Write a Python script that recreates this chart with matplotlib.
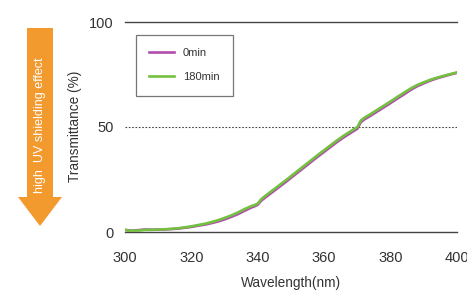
import matplotlib
matplotlib.use("Agg")
import matplotlib.pyplot as plt
from matplotlib.patches import Polygon

plt.rcParams['font.family'] = ["Liberation Sans", "DejaVu Sans"]

wavelength = [300, 302, 304, 306, 308, 310, 312, 314, 316, 318, 320, 322, 324, 326, 328,
              330, 332, 334, 336, 338, 339, 340, 341, 342, 344, 346, 348, 350, 352, 354,
              356, 358, 360, 362, 364, 366, 368, 369, 370, 370.5, 371, 372, 374, 376, 378,
              380, 382, 384, 386, 388, 390, 392, 394, 396, 398, 400]
t_180 = [1.0, 0.5, 0.7, 1.0, 1.0, 1.2, 1.3, 1.5, 1.8, 2.2, 2.7, 3.3, 3.9, 4.7, 5.6,
         6.7, 7.9, 9.3, 10.9, 12.3, 12.8, 13.6, 15.6, 16.9, 19.3, 21.7, 24.1, 26.6, 29.1, 31.6,
         34.1, 36.6, 39.0, 41.4, 43.8, 46.0, 48.0, 49.0, 50.0, 51.5, 53.0, 54.3, 56.2, 58.2, 60.2,
         62.2, 64.3, 66.3, 68.3, 70.0, 71.3, 72.5, 73.5, 74.4, 75.2, 76.0]
t_0 = [1.0, 0.6, 0.9, 1.2, 1.1, 1.2, 1.2, 1.4, 1.6, 2.0, 2.4, 3.0, 3.5, 4.2, 5.0,
       6.0, 7.2, 8.5, 10.1, 11.6, 12.2, 13.0, 14.9, 16.1, 18.5, 20.9, 23.3, 25.8, 28.3, 30.8,
       33.3, 35.8, 38.2, 40.6, 43.0, 45.2, 47.2, 48.2, 49.2, 50.7, 52.2, 53.5, 55.4, 57.4, 59.4,
       61.4, 63.5, 65.5, 67.6, 69.4, 70.8, 72.1, 73.2, 74.1, 75.0, 75.8]
x_ticks = [300, 320, 340, 360, 380, 400]
y_ticks = [0, 50, 100]
series_labels = ["0min", "180min"]

W, H = 467, 291
fig = plt.figure(figsize=(W / 100, H / 100), dpi=100)
ax = fig.add_axes([125 / W, 1 - 232 / H, (457 - 125) / W, (232 - 22) / H])

ax.plot(wavelength, t_0, color="#B14DAE", lw=1.9, label=series_labels[0], zorder=3)
ax.plot(wavelength, t_180, color="#74C040", lw=1.9, label=series_labels[1], zorder=4)

ax.axhline(100, color="#444444", lw=1.0, clip_on=False, zorder=1)
ax.axhline(0, color="#444444", lw=1.0, clip_on=False, zorder=1)
ax.axhline(50, color="#444444", lw=0.8, ls=(0, (1.5, 1.5)), zorder=1)

ax.set_xlim(300, 400)
ax.set_ylim(0, 100)
for s in ax.spines.values():
    s.set_visible(False)
ax.set_xticks(x_ticks)
ax.set_yticks(y_ticks)
ax.tick_params(axis="x", length=0, pad=14, labelsize=10.5, labelcolor="#333333")
ax.tick_params(axis="y", length=0, pad=8, labelsize=10.5, labelcolor="#333333")
ax.set_xlabel("Wavelength(nm)", fontsize=9.8, color="#333333")
ax.xaxis.set_label_coords(0.5, -(283 - 232) / 210, transform=ax.transAxes)
ax.xaxis.label.set_va("center")
ax.set_ylabel("Transmittance (%)", fontsize=9.8, color="#333333")
ax.yaxis.set_label_coords(-(125 - 75) / 332, (232 - 126) / 210)
ax.yaxis.label.set_va("center")

leg = ax.legend(loc="upper left", bbox_to_anchor=((136 - 125) / 332, (232 - 35) / 210),
                fontsize=8, frameon=True, fancybox=False, edgecolor="#555555",
                handlelength=2.2, borderpad=1.2, labelspacing=1.25, borderaxespad=0,
                handletextpad=0.8)
leg.get_frame().set_linewidth(0.9)
for t in leg.get_texts():
    t.set_color("#333333")

# Orange arrow (figure pixel coords)
pts = [(27, 28), (53, 28), (53, 197), (62, 197), (40, 226), (18, 197), (27, 197)]
poly = Polygon([(x / W, 1 - y / H) for x, y in pts], closed=True,
               transform=fig.transFigure, facecolor="#F39A2E", edgecolor="none")
fig.add_artist(poly)
fig.text(40 / W, 1 - 125 / H, "high  UV shielding effect", rotation=90, color="white",
         fontsize=9.0, ha="center", va="center")

fig.savefig("out.png", dpi=100)
